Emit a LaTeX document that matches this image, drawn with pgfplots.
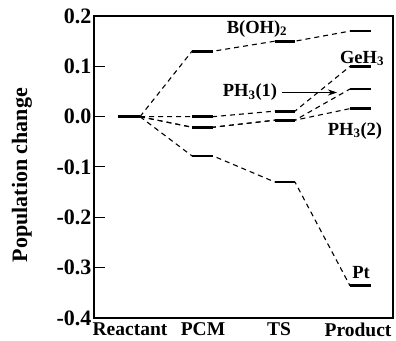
\documentclass[border=0pt]{standalone}
\usepackage{fontspec}
\setmainfont{Liberation Serif}
\usepackage{pgfplots}
\pgfplotsset{compat=1.18}
\usetikzlibrary{arrows.meta}
\tikzset{lbl/.style={font=\fontsize{18.5}{19}\selectfont\bfseries, inner sep=0pt}}
\pgfplotsset{conn/.style={black, line width=1.1pt, dash pattern=on 5pt off 4pt, no marks},
  lev/.style={black, line width=2.8pt, no marks, unbounded coords=jump}}
\begin{document}
\begin{tikzpicture}
\begin{axis}[
  scale only axis,
  width=299pt, height=302pt,
  xmin=94, xmax=393,
  ymin=-0.4, ymax=0.2,
  axis line style={line width=1.1pt},
  xtick={130,203,279,358},
  xticklabels={Reactant,PCM,TS,Product},
  x tick style={draw=none},
  ytick={-0.4,-0.3,-0.2,-0.1,0,0.1,0.2},
  yticklabels={-0.4,-0.3,-0.2,-0.1,0.0,0.1,0.2},
  ytick pos=left,
  tick align=inside,
  major tick length=11pt,
  y tick style={line width=1pt, black},
  xticklabel style={font=\fontsize{19.5}{20}\selectfont\bfseries, yshift=-1pt},
  yticklabel style={font=\fontsize{22}{23}\selectfont\bfseries, xshift=1pt},
  ylabel={Population change},
  every axis y label/.style={at={(axis description cs:-0.241,0.473)}, rotate=90, anchor=center, font=\fontsize{22}{23}\selectfont\bfseries},
  clip=false,
]
% B(OH)2
\addplot[conn] coordinates {(140,0) (192,0.13) (213,0.13) (275,0.15) (295,0.15) (350,0.17)};
% GeH3
\addplot[conn] coordinates {(140,0) (192,0) (213,0) (275,0.011) (295,0.011) (350,0.1)};
% PH3(1)
\addplot[conn] coordinates {(140,0) (192,-0.021) (213,-0.021) (275,-0.007) (295,-0.007) (350,0.055)};
% PH3(2)
\addplot[conn] coordinates {(140,0) (192,-0.021) (213,-0.021) (275,-0.007) (295,-0.007) (350,0.016)};
% Pt
\addplot[conn] coordinates {(140,0) (192,-0.078) (213,-0.078) (275,-0.13) (295,-0.13) (350,-0.336)};
% levels
\addplot[lev] coordinates {(118,0) (140,0)
  (140,nan) (192,0.13) (213,0.13) (213,nan) (275,0.15) (295,0.15) (295,nan) (350,0.17) (371,0.17)};
\addplot[lev] coordinates {(192,0) (213,0) (213,nan) (275,0.011) (295,0.011) (295,nan) (350,0.1) (371,0.1)};
\addplot[lev] coordinates {(192,-0.021) (213,-0.021) (213,nan) (275,-0.007) (295,-0.007) (295,nan) (350,0.055) (371,0.055) (371,nan) (350,0.016) (371,0.016)};
\addplot[lev] coordinates {(192,-0.078) (213,-0.078) (213,nan) (275,-0.13) (295,-0.13) (295,nan) (350,-0.336) (371,-0.336)};
% labels
\node[lbl] at (axis cs:257,0.175) {B(OH)\textsubscript{2}};
\node[lbl] at (axis cs:362,0.116) {GeH\textsubscript{3}};
\node[lbl] at (axis cs:250,0.048) {PH\textsubscript{3}(1)};
\node[lbl] at (axis cs:355,-0.028) {PH\textsubscript{3}(2)};
\node[lbl] at (axis cs:361,-0.31) {Pt};
\draw[line width=0.9pt, -{Stealth[length=9pt,width=6pt]}] (axis cs:282,0.048) -- (axis cs:337,0.048);
\coordinate (ll) at (rel axis cs:0,0);
\coordinate (ur) at (rel axis cs:1,1);
\end{axis}
\pgfresetboundingbox
\path[use as bounding box] ([shift={(-94pt,-23pt)}]ll) rectangle ([shift={(3pt,16pt)}]ur);
\end{tikzpicture}
\end{document}
